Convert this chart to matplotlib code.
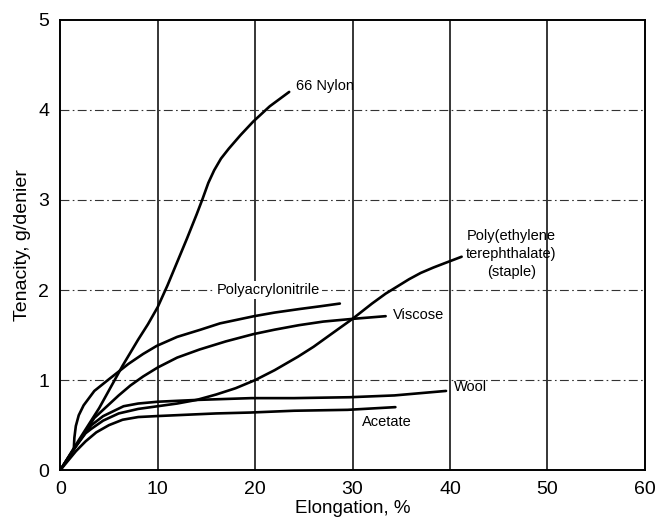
import matplotlib.pyplot as plt

plt.rcParams['font.family'] = ['Liberation Sans', 'DejaVu Sans']

# fibre stress-strain curves
nylon_x = [0, 2, 4, 6.4, 8, 9, 10, 11, 12, 13, 14, 14.6, 15.2, 15.8, 16.5, 17.3, 18.5, 19.8, 21.5, 23.5]
nylon_y = [0, 0.35, 0.69, 1.16, 1.45, 1.62, 1.81, 2.05, 2.31, 2.57, 2.84, 3.01, 3.19, 3.33, 3.46, 3.57, 3.72, 3.87, 4.04, 4.2]

pan_x = [1.4, 1.45, 1.6, 1.9, 2.4, 3.5, 5.0, 7.0, 8.5, 9.9, 12, 14.4, 16.4, 19.9, 22, 24.6, 26.7, 28.7]
pan_y = [0.25, 0.36, 0.49, 0.61, 0.72, 0.88, 1.01, 1.18, 1.29, 1.38, 1.48, 1.56, 1.63, 1.71, 1.75, 1.79, 1.82, 1.85]

viscose_x = [0, 1.5, 2.6, 3.5, 4.8, 6, 7.2, 8.5, 10, 12, 14.3, 17, 19.8, 22, 24.5, 27, 30, 33.4]
viscose_y = [0, 0.25, 0.43, 0.58, 0.71, 0.83, 0.94, 1.04, 1.14, 1.25, 1.34, 1.43, 1.51, 1.56, 1.61, 1.65, 1.68, 1.71]

pet_x = [0, 1.5, 2.6, 3.2, 4.4, 6, 8, 10, 12, 14, 16, 18, 20, 22, 24.4, 26, 27.8, 30, 32, 33.4, 34.6,
         35.8, 37, 38.3, 39.5, 41.2]
pet_y = [0, 0.25, 0.41, 0.46, 0.55, 0.63, 0.68, 0.71, 0.74, 0.78, 0.84, 0.91, 1.0, 1.11, 1.26, 1.37,
         1.51, 1.68, 1.85, 1.96, 2.04, 2.12, 2.19, 2.25, 2.3, 2.37]

wool_x = [0, 1.5, 2.6, 3.2, 4.4, 6.5, 8, 10, 14, 19.6, 24, 29.7, 34.3, 39.6]
wool_y = [0, 0.25, 0.42, 0.5, 0.6, 0.71, 0.74, 0.76, 0.78, 0.8, 0.8, 0.81, 0.83, 0.88]

acetate_x = [0, 1.6, 2.6, 3.7, 5, 6.4, 8, 9.8, 13.9, 16, 19.5, 24, 29.5, 34.4]
acetate_y = [0, 0.21, 0.32, 0.42, 0.5, 0.56, 0.59, 0.6, 0.62, 0.63, 0.64, 0.66, 0.67, 0.7]

xticks = [0, 10, 20, 30, 40, 50, 60]
yticks = [0, 1, 2, 3, 4, 5]

fig = plt.figure(figsize=(6.62, 5.23), dpi=100)
ax = fig.add_axes([0.091, 0.101, 0.883, 0.861])

# grid: solid verticals, dash-dot horizontals
for x in xticks[1:-1]:
    ax.axvline(x, color='black', lw=1.1, zorder=1)
for y in yticks[1:-1]:
    ax.axhline(y, color='#333333', lw=0.8, ls=(0, (8, 3, 1.5, 3)), zorder=1)

for xs, ys in [(nylon_x, nylon_y), (pan_x, pan_y), (viscose_x, viscose_y),
               (pet_x, pet_y), (wool_x, wool_y), (acetate_x, acetate_y)]:
    ax.plot(xs, ys, color='black', lw=1.9, solid_capstyle='round',
            solid_joinstyle='round', zorder=3)

fs = 10.5
ax.text(24.2, 4.27, '66 Nylon', fontsize=fs, va='center', ha='left')
ax.text(21.4, 2.0, 'Polyacrylonitrile', fontsize=fs, va='center', ha='center',
        bbox=dict(facecolor='white', edgecolor='none', pad=1.5), zorder=4)
ax.text(34.2, 1.72, 'Viscose', fontsize=fs, va='center', ha='left')
ax.text(46.3, 2.4, 'Poly(ethylene\nterephthalate)\n(staple)', fontsize=fs,
        va='center', ha='center', linespacing=1.35)
ax.text(40.4, 0.92, 'Wool', fontsize=fs, va='center', ha='left')
ax.text(31.0, 0.53, 'Acetate', fontsize=fs, va='center', ha='left')

ax.set_xlim(0, 60)
ax.set_ylim(0, 5)
ax.set_xticks(xticks)
ax.set_yticks(yticks)
ax.tick_params(length=0, labelsize=14, pad=8)
for s in ax.spines.values():
    s.set_linewidth(1.4)
    s.set_color('black')

ax.set_xlabel('Elongation, %', fontsize=13.5, labelpad=1)
ax.set_ylabel('Tenacity, g/denier', fontsize=14, labelpad=5)

fig.savefig('out.png', dpi=100)
